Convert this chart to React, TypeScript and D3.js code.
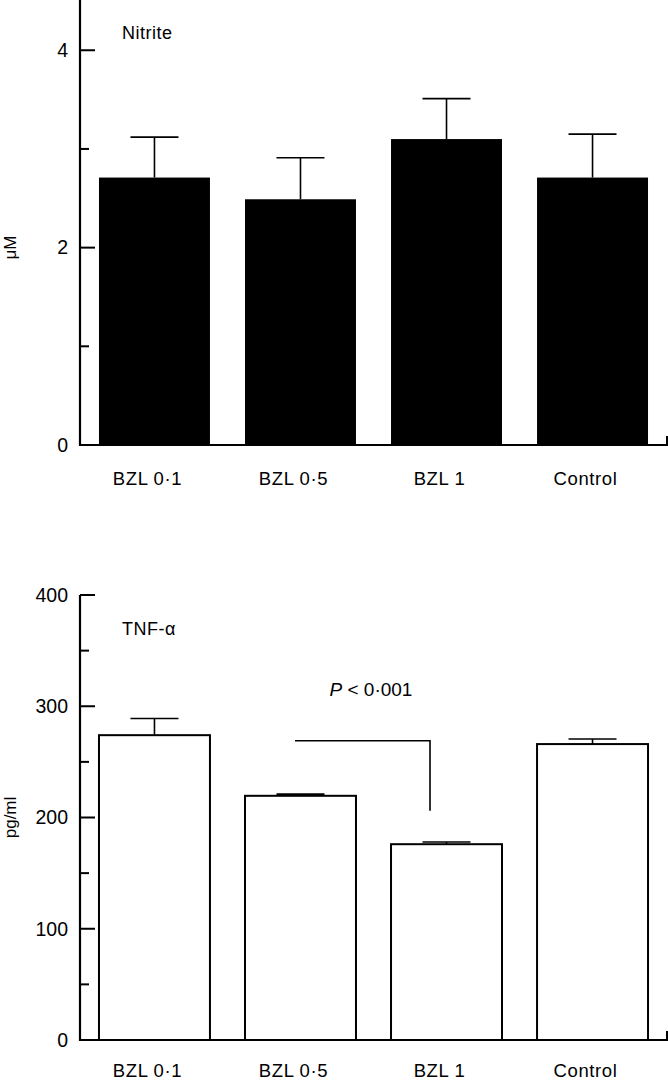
import React from "react";
import * as d3 from "d3";

const categories = ["BZL 0·1", "BZL 0·5", "BZL 1", "Control"];
const nitriteMean = [2.71, 2.49, 3.1, 2.71];
const nitriteErr = [0.41, 0.42, 0.41, 0.44];
const tnfMean = [274, 219.5, 176, 266];
const tnfErr = [15, 1.5, 2, 4.5];
const nitriteTicks = [0, 2, 4];
const nitriteMinor = [1, 3];
const tnfTicks = [0, 100, 200, 300, 400];
const tnfMinor = [50, 150, 250, 350];
const bracket = { from: "BZL 0·5", to: "BZL 1", level: 269, end: 206, label: "P < 0·001" };

const W = 668;
const H = 1080;
const X0 = 80;
const X1 = 667;
const FONT = "'Liberation Sans', Arial, Helvetica, sans-serif";

function Panel({ top, bottom, domain, ticks, minor, mean, err, fill, title, titleY, ylabel, labelY, children }: any) {
  const x = d3.scaleBand<string>().domain(categories).range([X0, X1]).paddingInner(0.24).paddingOuter(0.13);
  const y = d3.scaleLinear().domain(domain).range([bottom, top]);
  const bw = x.bandwidth();
  const capW = 48;
  return (
    <g>
      {categories.map((c, i) => {
        const cx = (x(c) as number) + bw / 2;
        return (
          <g key={c}>
            <line x1={cx} x2={cx} y1={y(mean[i])} y2={y(mean[i] + err[i])} stroke="#000" strokeWidth={1.6} />
            <line x1={cx - capW / 2} x2={cx + capW / 2} y1={y(mean[i] + err[i])} y2={y(mean[i] + err[i])} stroke="#000" strokeWidth={1.6} />
            <rect x={x(c)} y={y(mean[i])} width={bw} height={y(0) - y(mean[i])} fill={fill} stroke="#000" strokeWidth={fill === "#000" ? 0 : 2} />
            <text x={cx - 7} y={labelY} textAnchor="middle" fontSize={18.5} letterSpacing={0.6} fontFamily={FONT}>{c}</text>
          </g>
        );
      })}
      <line x1={X0} x2={X0} y1={y(domain[1])} y2={bottom + 1} stroke="#000" strokeWidth={2.2} />
      <line x1={X0 - 1} x2={X1} y1={bottom} y2={bottom} stroke="#000" strokeWidth={2.2} />
      <line x1={X1} x2={X1} y1={bottom + 1} y2={bottom - 9} stroke="#000" strokeWidth={2} />
      {ticks.map((t: number) => (
        <g key={t}>
          <line x1={X0} x2={X0 + 15} y1={y(t)} y2={y(t)} stroke="#000" strokeWidth={2} />
          <text x={X0 - 12} y={y(t)} dy="0.35em" textAnchor="end" fontSize={19.5} fontFamily={FONT}>{t}</text>
        </g>
      ))}
      {minor.map((t: number) => (
        <line key={t} x1={X0} x2={X0 + 9} y1={y(t)} y2={y(t)} stroke="#000" strokeWidth={2} />
      ))}
      <text x={122} y={titleY} fontSize={18} letterSpacing={0.5} fontFamily={FONT}>{title}</text>
      <text transform={`translate(16, ${y((domain[0] + (ticks[ticks.length - 1])) / 2)}) rotate(-90)`} textAnchor="middle" fontSize={17} fontFamily={FONT}>{ylabel}</text>
      {children && children(x, y)}
    </g>
  );
}

export default function App() {
  return (
    <svg width={W} height={H} style={{ position: "absolute", left: 0, top: 0, background: "#fff" }}>
      <Panel top={-6} bottom={445} domain={[0, 4.57]} ticks={nitriteTicks} minor={nitriteMinor} mean={nitriteMean} err={nitriteErr} fill="#000" title="Nitrite" titleY={39} ylabel="μM" labelY={485} />
      <Panel top={595} bottom={1040} domain={[0, 400]} ticks={tnfTicks} minor={tnfMinor} mean={tnfMean} err={tnfErr} fill="#fff" title="TNF-α" titleY={635} ylabel="pg/ml" labelY={1077}>
        {(x: any, y: any) => {
          const bw = x.bandwidth();
          const xa = x(bracket.from) + bw / 2 - 5.5;
          const xb = x(bracket.to) + bw / 2 - 16.5;
          return (
            <g>
              <polyline points={`${xa},${y(bracket.level)} ${xb},${y(bracket.level)} ${xb},${y(bracket.end)}`} fill="none" stroke="#000" strokeWidth={1.6} />
              <text x={xa + 76} y={y(bracket.level) - 45} textAnchor="middle" fontSize={19} fontFamily={FONT}>
                <tspan fontStyle="italic">P</tspan> {"< 0·001"}
              </text>
            </g>
          );
        }}
      </Panel>
    </svg>
  );
}
